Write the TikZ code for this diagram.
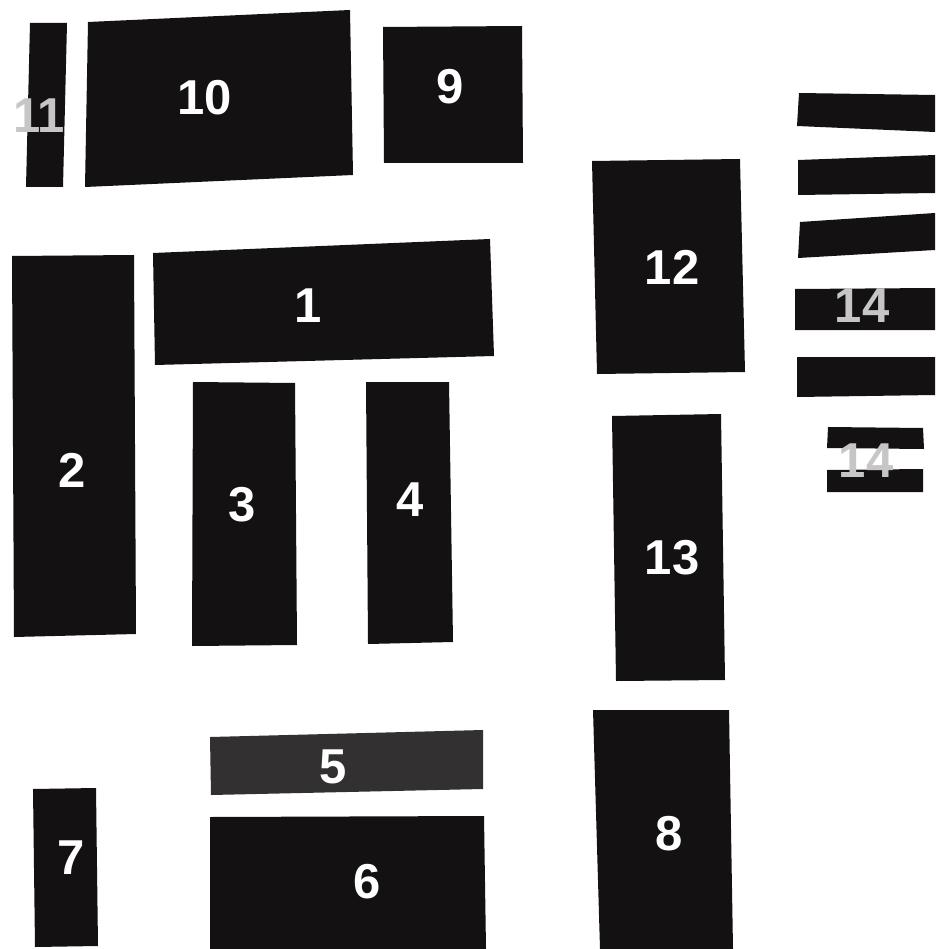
\documentclass[tikz,border=0pt]{standalone}
\usepackage{fontspec}
\setmainfont{Liberation Sans}
\definecolor{piece}{HTML}{131111}
\definecolor{piecegray}{HTML}{323030}
\definecolor{labgray}{HTML}{C6C6C6}
\tikzset{
  piece/.style={fill=piece},
  piecelight/.style={fill=piecegray},
  lab/.style={inner sep=0pt, text=white, font=\bfseries\fontsize{49}{49}\selectfont},
  labg/.style={lab, text=labgray},
}
\begin{document}
\begin{tikzpicture}[x=1pt,y=-1pt]
\useasboundingbox (0,0) rectangle (935,949);
\fill[white] (0,0) rectangle (935,949);
% 11
\fill[piece] (30,23) -- (67,23) -- (63,187) -- (26,187) -- cycle;
% 10
\fill[piece] (88,22) -- (350,10) -- (353,175) -- (85,187) -- cycle;
% 9
\fill[piece] (383,27) -- (522,26) -- (523,163) -- (384,163) -- cycle;
% 1
\fill[piece] (153,253) -- (490,239) -- (494,356) -- (155,365) -- cycle;
% 2
\fill[piece] (12,256) -- (134,255) -- (136,634) -- (14,637) -- cycle;
% 3
\fill[piece] (193,382) -- (295,383) -- (297,645) -- (192,646) -- cycle;
% 4
\fill[piece] (366,382) -- (449,382) -- (453,642) -- (368,644) -- cycle;
% 12
\fill[piece] (592,161) -- (740,159) -- (745,372) -- (597,374) -- cycle;
% 13
\fill[piece] (612,416) -- (721,414) -- (725,680) -- (616,681) -- cycle;
% 8
\fill[piece] (593,710) -- (729,710) -- (733,949) -- (600,949) -- cycle;
% 5
\fill[piecelight] (210,737) -- (483,730) -- (483,789) -- (211,795) -- cycle;
% 6
\fill[piece] (210,817) -- (484,816) -- (486,949) -- (210,949) -- cycle;
% 7
\fill[piece] (33,789) -- (96,788) -- (98,946) -- (35,947) -- cycle;
% 14 bars
\fill[piece] (799,93) -- (935,95) -- (935,132) -- (797,126) -- cycle;
\fill[piece] (798,160) -- (935,155) -- (935,193) -- (798,195) -- cycle;
\fill[piece] (800,222) -- (935,213) -- (935,250) -- (798,258) -- cycle;
\fill[piece] (795,289) -- (935,288) -- (935,330) -- (795,330) -- cycle;
\fill[piece] (797,357) -- (935,357) -- (935,395) -- (797,397) -- cycle;
\fill[piece] (828,427) -- (923,428) -- (924,449) -- (827,448) -- cycle;
\fill[piece] (827,470) -- (923,469) -- (923,492) -- (827,492) -- cycle;
% labels
\node[lab] (l1) at (308,306) {1};
\node[lab] (l2) at (72,470) {2};
\node[lab] (l3) at (242,505) {3};
\node[lab] (l4) at (410,500) {4};
\node[lab] (l5) at (333,767) {5};
\node[lab] (l6) at (367,882) {6};
\node[lab] (l7) at (71,858) {7};
\node[lab] (l8) at (669,834) {8};
\node[lab] (l9) at (450,87) {9};
\node[lab] (l10) at (205,98) {10};
\node[labg] (l11) at (39,116) {11};
\node[lab] (l12) at (672,267) {12};
\node[lab] (l13) at (672,558) {13};
\node[labg] (l14a) at (862,306) {14};
\node[labg] (l14b) at (866,461) {14};
\end{tikzpicture}
\end{document}
